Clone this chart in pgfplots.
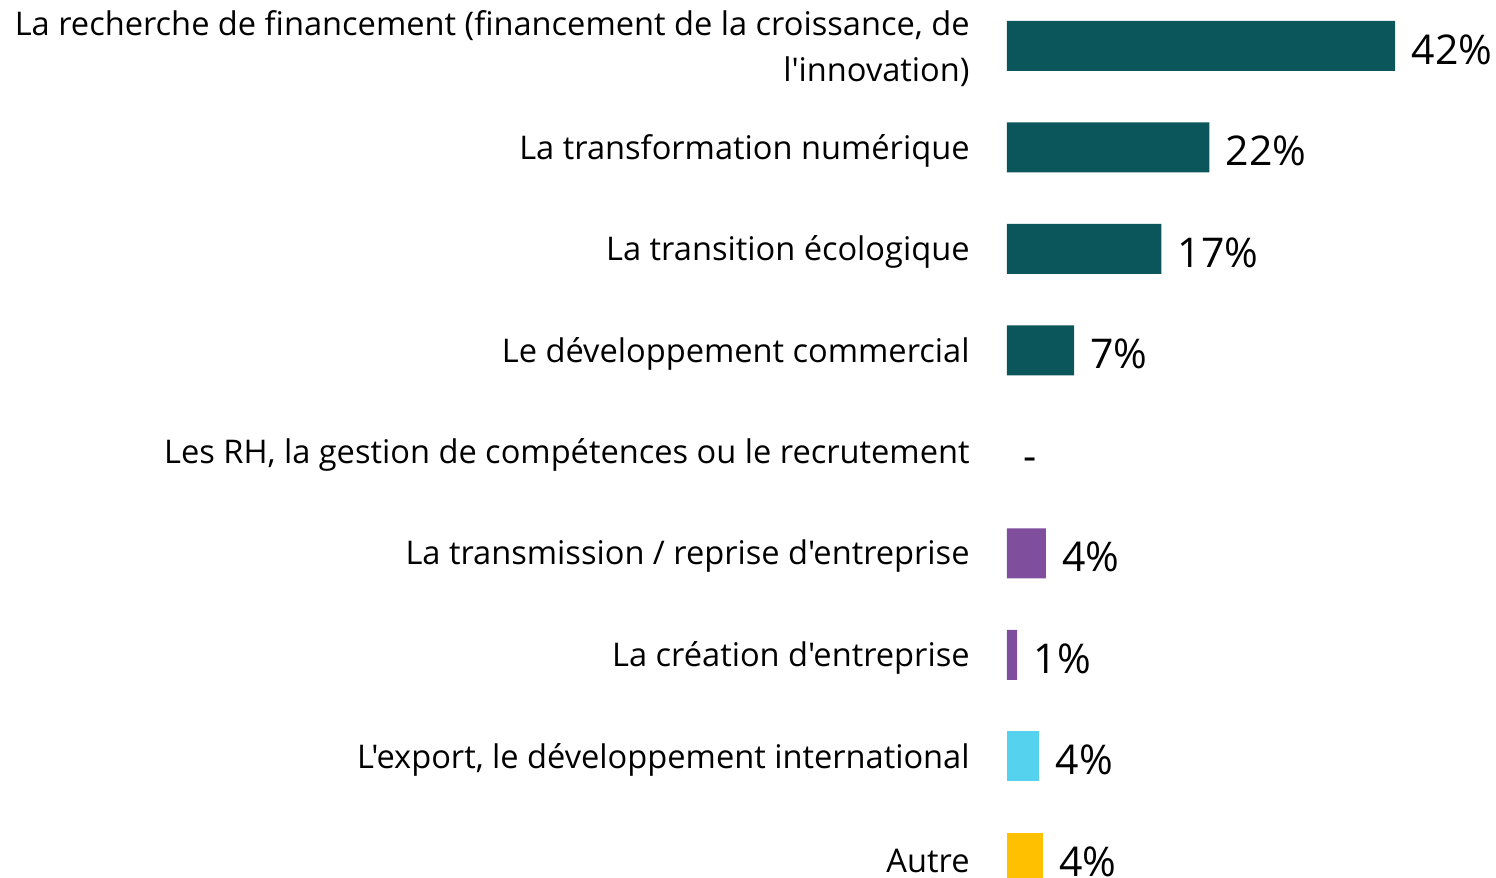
\documentclass[border=0pt]{standalone}
\usepackage{fontspec}
\setmainfont{Open Sans}[Ligatures=TeXOff]
\usepackage{pgfplots}
\pgfplotsset{compat=1.18}

\definecolor{teal1}{RGB}{11,86,91}
\definecolor{purp1}{RGB}{127,79,158}
\definecolor{cyan1}{RGB}{85,210,238}
\definecolor{gold1}{RGB}{255,192,0}

\begin{document}
\begin{tikzpicture}
  \begin{axis}[
      name=ax,
      xbar,
      scale only axis,
      width=244.5pt, height=439pt,
      xmin=0, xmax=52.9,
      ymin=-0.453, ymax=8.197,
      y dir=reverse,
      bar width=25pt,
      hide x axis,
      axis line style={draw=none},
      ytick={0,...,8},
      yticklabels={
        {La recherche de financement (financement de la croissance, de\\l'innovation)},
        {La transformation numérique},
        {La transition écologique},
        {Le développement commercial},
        {Les RH, la gestion de compétences ou le recrutement},
        {La transmission / reprise d'entreprise},
        {La création d'entreprise},
        {L'export, le développement international},
        {Autre}},
      major tick length=0pt,
      ytick style={draw=none},
      yticklabel style={font=\fontsize{16.3}{23}\selectfont, align=right, inner sep=0pt, xshift=-18.5pt, yshift=-1.5pt},
      point meta=explicit symbolic,
      nodes near coords,
      every node near coord/.append style={font=\fontsize{20.5}{24}\selectfont, anchor=west, inner sep=0pt,
        text height=14.6pt, text depth=0pt, xshift=8pt, yshift=-1.75pt},
    ]
    \addplot[fill=teal1, draw=none, bar shift=0pt] coordinates {
        (42,0) [42\%]
        (21.9,1) [22\%]
        (16.7,2) [17\%]
        (7.25,3) [7\%]
      };
    % no answers for this item: only the dash is shown
    \addplot[fill=none, draw=none, bar shift=0pt] coordinates {
        (0,4) [-]
      };
    \addplot[fill=purp1, draw=none, bar shift=0pt] coordinates {
        (4.2,5) [4\%]
        (1.1,6) [1\%]
      };
    \addplot[fill=cyan1, draw=none, bar shift=0pt] coordinates {
        (3.5,7) [4\%]
      };
    \addplot[fill=gold1, draw=none, bar shift=0pt] coordinates {
        (3.9,8) [4\%]
      };
  \end{axis}
  \pgfresetboundingbox
  \useasboundingbox ([xshift=-503.5pt]ax.south west) rectangle (ax.north east);
\end{tikzpicture}
\end{document}
